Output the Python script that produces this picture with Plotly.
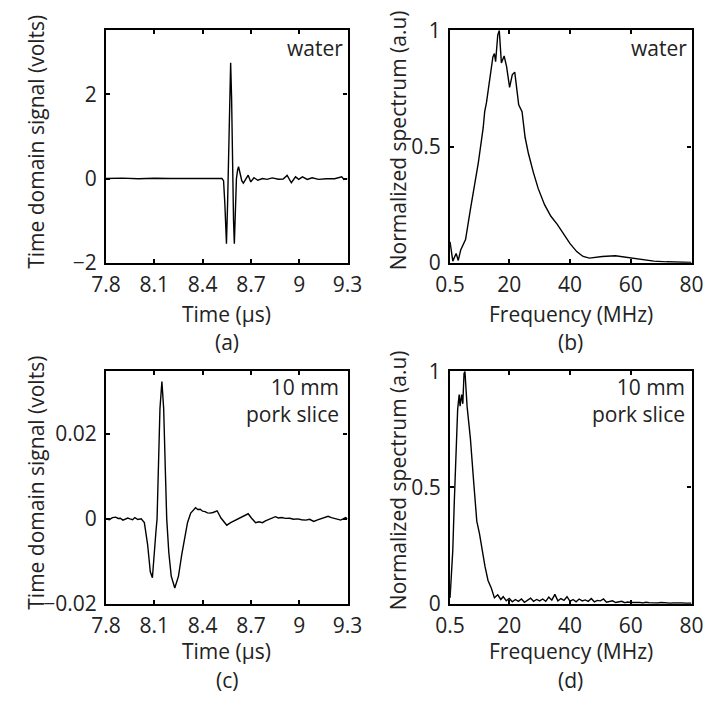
import plotly.graph_objects as go

# ---------------- data ----------------
# (a) water, time-domain signal
t_a = [7.80, 7.90, 8.00, 8.10, 8.20, 8.30, 8.40, 8.48, 8.52, 8.53, 8.538, 8.548, 8.555,
       8.562, 8.568, 8.574, 8.580, 8.586, 8.592, 8.597, 8.603, 8.610, 8.617, 8.623, 8.633,
       8.643, 8.653, 8.668, 8.683, 8.699, 8.719, 8.743, 8.772, 8.800, 8.832, 8.871, 8.900,
       8.925, 8.951, 8.977, 8.997, 9.020, 9.050, 9.080, 9.120, 9.169, 9.220, 9.264, 9.278, 9.300]
v_a = [0.0, 0.01, -0.005, 0.008, 0.0, 0.006, -0.004, 0.005, 0.0, -0.05, -0.6, -1.55, -0.6,
       0.6, 1.9, 2.75, 1.9, 0.2, -1.0, -1.55, -0.9, 0.0, 0.2, 0.28, 0.12,
       -0.05, -0.11, -0.02, 0.08, -0.08, 0.02, -0.04, 0.0, -0.02, 0.015, -0.015, -0.01,
       0.075, -0.1, 0.04, -0.02, 0.04, -0.02, 0.02, -0.02, -0.005, -0.005, 0.04, -0.02, 0.0]

# (b) water, normalized spectrum
f_b = [0.5, 1.4, 2.5, 3.2, 4.0, 5.6, 7.2, 8.8, 9.8, 11.4, 11.9, 12.5, 13.6, 14.6, 15.1, 15.5,
       16.2, 16.7, 17.4, 18.3, 19.1, 20.1, 21.0, 21.8, 23.1, 24.2, 25.2, 26.3, 27.9, 29.5,
       31.6, 33.7, 35.8, 37.9, 40.0, 42.2, 44.3, 46.4, 50.6, 54.9, 59.1, 63.3, 67.6, 71.8,
       76.0, 80.0]
s_b = [0.09, 0.007, 0.04, 0.01, 0.055, 0.10, 0.23, 0.35, 0.43, 0.58, 0.65, 0.69, 0.79, 0.886,
       0.90, 0.865, 0.98, 1.0, 0.86, 0.89, 0.845, 0.755, 0.81, 0.82, 0.68, 0.65, 0.54, 0.47,
       0.39, 0.32, 0.25, 0.20, 0.165, 0.124, 0.082, 0.048, 0.027, 0.02, 0.027, 0.03, 0.023,
       0.014, 0.007, 0.004, 0.003, 0.001]

# (c) 10 mm pork slice, time-domain signal
t_c = [7.80, 7.82, 7.84, 7.86, 7.875, 7.889, 7.905, 7.919, 7.935, 7.949, 7.965, 7.979, 7.998,
       8.018, 8.038, 8.058, 8.075, 8.088, 8.100, 8.110, 8.117, 8.125, 8.135, 8.147, 8.158,
       8.168, 8.177, 8.190, 8.205, 8.227, 8.250, 8.270, 8.290, 8.306, 8.326, 8.356, 8.370,
       8.385, 8.400, 8.415, 8.430, 8.445, 8.465, 8.490, 8.514, 8.550, 8.574, 8.604, 8.633,
       8.663, 8.683, 8.703, 8.729, 8.750, 8.772, 8.790, 8.812, 8.830, 8.852, 8.870, 8.891,
       8.915, 8.941, 8.965, 8.990, 9.015, 9.040, 9.065, 9.090, 9.110, 9.129, 9.155, 9.179,
       9.200, 9.219, 9.240, 9.258, 9.288, 9.300]
v_c = [0.0, -0.0002, 0.0003, 0.0004, 0.0001, 0.00015, -0.0003, -0.00015, 0.0002, 0.0, -0.0002,
       0.0003, -0.00015, 0.0, -0.0009, -0.006, -0.0125, -0.0139, -0.009, -0.003, 0.0, 0.012,
       0.026, 0.0324, 0.026, 0.012, 0.0, -0.008, -0.0135, -0.0163, -0.0135, -0.0085, -0.004,
       -0.0009, 0.00135, 0.0026, 0.0022, 0.00225, 0.0018, 0.0017, 0.0014, 0.00135, 0.0015,
       0.0019, 0.0002, -0.0015, -0.0009, -0.0003, 0.0004, 0.0008, 0.0012, 0.0002, -0.0009,
       -0.0007, -0.0009, -0.0005, -0.00015, 0.0002, 0.0005, 0.0002, 0.0003, 0.0001, 0.00015,
       -0.0001, 0.0, -0.0002, -0.0003, -0.0001, -0.0006, -0.0003, 0.0, 0.0003, 0.0006, 0.0003,
       0.00015, -0.0001, -0.0003, 0.0003, 0.0]

# (d) 10 mm pork slice, normalized spectrum
f_d = [0.5, 0.7, 1.4, 1.9, 2.5, 3.0, 3.5, 3.8, 4.3, 4.7, 5.1, 5.4, 6.1, 7.2, 8.3, 9.3, 10.2,
       10.9, 12.0, 13.0, 14.1, 15.1, 16.2, 17.2,
       18, 19, 20, 21, 22, 23, 24, 25, 26, 27, 28, 29, 30,
       31, 32, 33, 34, 35, 36, 37, 38, 39, 40,
       41, 42, 43, 44, 45, 46, 47, 48, 49, 50,
       51, 52, 53, 54, 55, 56, 57, 58, 59, 60,
       61, 62, 63, 64, 65, 66, 67, 68, 69, 70,
       71, 72, 73, 74, 75, 76, 77, 78, 79, 80]
s_d = [0.025, 0.08, 0.23, 0.44, 0.67, 0.835, 0.90, 0.85, 0.90, 0.86, 0.99, 1.0, 0.85, 0.71,
       0.52, 0.355, 0.30, 0.245, 0.16, 0.10, 0.066, 0.025, 0.038, 0.018,
       0.03, 0.012, 0.022, 0.008, 0.018, 0.01, 0.02, 0.006, 0.015, 0.024, 0.01, 0.018, 0.012,
       0.02, 0.01, 0.028, 0.015, 0.04, 0.012, 0.022, 0.014, 0.03, 0.01,
       0.018, 0.008, 0.02, 0.012, 0.016, 0.01, 0.022, 0.008, 0.014, 0.012,
       0.02, 0.006, 0.01, 0.012, 0.005, 0.008, 0.01, 0.004, 0.007, 0.005,
       0.006, 0.004, 0.005, 0.003, 0.006, 0.004, 0.003, 0.004, 0.003, 0.005,
       0.003, 0.004, 0.002, 0.003, 0.004, 0.002, 0.003, 0.002, 0.003, 0.002]

time_ticks = [7.8, 8.1, 8.4, 8.7, 9.0, 9.3]
time_ticktext = ["7.8", "8.1", "8.4", "8.7", "9", "9.3"]
freq_ticks = [0.5, 20, 40, 60, 80]
freq_ticktext = ["0.5", "20", "40", "60", "80"]
spec_ticks = [0, 0.5, 1]
spec_ticktext = ["0", "0.5", "1"]
a_yticks = [-2, 0, 2]
a_yticktext = ["\u22122", "0", "2"]
c_yticks = [-0.02, 0, 0.02]
c_yticktext = ["\u22120.02", "0", "0.02"]

FONT = "Open Sans"
FS = 21
W, H = 719, 705

# plot-area pixel boxes
LX = (95, 347)
RX = (454, 706)
TY = (16, 258)
BY = (371, 613)

def xd(px):
    return [px[0] / W, px[1] / W]

def yd(py):
    return [1 - py[1] / H, 1 - py[0] / H]

fig = go.Figure()
line = dict(color="black", width=1.4)
fig.add_trace(go.Scatter(x=t_a, y=v_a, mode="lines", line=line, xaxis="x", yaxis="y"))
fig.add_trace(go.Scatter(x=f_b, y=s_b, mode="lines", line=line, xaxis="x2", yaxis="y2"))
fig.add_trace(go.Scatter(x=t_c, y=v_c, mode="lines", line=line, xaxis="x3", yaxis="y3"))
fig.add_trace(go.Scatter(x=f_d, y=s_d, mode="lines", line=line, xaxis="x4", yaxis="y4"))

ax_common = dict(showline=True, linecolor="black", linewidth=2.2, mirror="ticks",
                 ticks="inside", ticklen=4, tickwidth=2, tickcolor="black",
                 showgrid=False, zeroline=False,
                 tickfont=dict(family=FONT, size=FS, color="#222222"))
x_common = dict(ticklabelstandoff=2, **ax_common)
y_common = dict(ticklabelstandoff=3, **ax_common)

fig.update_layout(
    width=W, height=H, margin=dict(l=0, r=0, t=0, b=0),
    paper_bgcolor="white", plot_bgcolor="white", showlegend=False,
    font=dict(family=FONT, size=FS, color="#222222"),
    xaxis=dict(domain=xd(LX), anchor="y", range=[7.8, 9.3], tickvals=time_ticks,
               ticktext=time_ticktext, **x_common),
    yaxis=dict(domain=yd(TY), anchor="x", range=[-2, 3.52], tickvals=a_yticks,
               ticktext=a_yticktext, **y_common),
    xaxis2=dict(domain=xd(RX), anchor="y2", range=[0.5, 80], tickvals=freq_ticks,
                ticktext=freq_ticktext, **x_common),
    yaxis2=dict(domain=yd(TY), anchor="x2", range=[0, 1], tickvals=spec_ticks,
                ticktext=spec_ticktext, **y_common),
    xaxis3=dict(domain=xd(LX), anchor="y3", range=[7.8, 9.3], tickvals=time_ticks,
                ticktext=time_ticktext, **x_common),
    yaxis3=dict(domain=yd(BY), anchor="x3", range=[-0.02, 0.0348], tickvals=c_yticks,
                ticktext=c_yticktext, **y_common),
    xaxis4=dict(domain=xd(RX), anchor="y4", range=[0.5, 80], tickvals=freq_ticks,
                ticktext=freq_ticktext, **x_common),
    yaxis4=dict(domain=yd(BY), anchor="x4", range=[0, 1], tickvals=spec_ticks,
                ticktext=spec_ticktext, **y_common),
)

def ann(text, x, y, xanchor="center", yanchor="middle", angle=0, align="center"):
    fig.add_annotation(text=text, x=x / W, y=1 - y / H, xref="paper", yref="paper",
                       xanchor=xanchor, yanchor=yanchor, textangle=angle, align=align,
                       showarrow=False, font=dict(family=FONT, size=FS, color="#222222"))

# x titles and panel labels
ann("Time (\u03bcs)", 221, 311)
ann("(a)", 221, 341)
ann("Frequency (MHz)", 580, 311)
ann("(b)", 580, 341)
ann("Time (\u03bcs)", 221, 662)
ann("(c)", 221, 692.5)
ann("Frequency (MHz)", 580, 662)
ann("(d)", 580, 692.5)
# y titles
ann("Time domain signal (volts)", 22, 132, angle=-90)
ann("Normalized spectrum (a.u)", 399, 130, angle=-90)
ann("Time domain signal (volts)", 22, 487, angle=-90)
ann("Normalized spectrum (a.u)", 399, 484, angle=-90)
# in-panel labels
ann("water", 344, 34, xanchor="right")
ann("water", 703, 34, xanchor="right")
ann("10 mm<br>pork slice", 340, 401, xanchor="right", align="right")
ann("10 mm<br>pork slice", 701, 401, xanchor="right", align="right")

fig.write_html("out.html")
